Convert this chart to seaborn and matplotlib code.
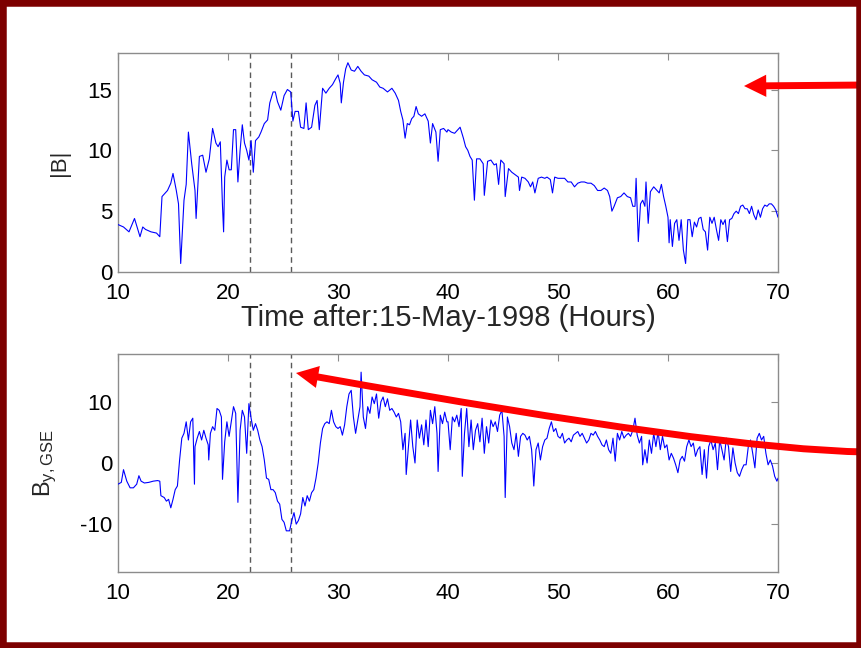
import numpy as np
import pandas as pd
import matplotlib
matplotlib.use("Agg")
import matplotlib.pyplot as plt
import seaborn as sns
from matplotlib.patches import FancyArrowPatch, Rectangle, ArrowStyle
from matplotlib.path import Path

# ---------------- data ----------------
t_bmag = [10.0, 10.5, 11.0, 11.5, 12.0, 12.25, 12.5, 13.0, 13.5, 13.8, 14.0, 14.5, 14.8, 15.0, 15.3,
          15.5, 15.7, 16.0, 16.2, 16.4, 16.7, 17.0, 17.1, 17.4, 17.7, 18.0, 18.3, 18.6, 18.9, 19.1,
          19.3, 19.5, 19.6, 19.7, 19.9, 20.1, 20.3, 20.5, 20.7, 20.9, 21.1, 21.3, 21.5, 21.7, 21.9,
          22.1, 22.3, 22.5, 22.8, 23.0, 23.3, 23.6, 23.8, 24.1, 24.3, 24.5, 24.8, 25.1, 25.4, 25.7,
          25.9, 26.1, 26.4, 26.6, 26.9, 27.1, 27.3, 27.6, 27.9, 28.1, 28.3, 28.6, 28.9, 29.2, 29.5,
          29.8, 30.0, 30.2, 30.3, 30.5, 30.7, 30.9, 31.2, 31.5, 31.8, 32.1, 32.4, 32.8, 33.1, 33.5,
          33.8, 34.1, 34.5, 34.9, 35.2, 35.5, 35.7, 35.9, 36.1, 36.3, 36.5, 36.7, 36.9, 37.1, 37.3,
          37.6, 37.9, 38.2, 38.4, 38.6, 38.9, 39.1, 39.3, 39.6, 39.9,
          40.0, 40.3, 40.6, 40.9, 41.1, 41.4, 41.6, 41.8, 42.0, 42.2, 42.4, 42.6, 42.9, 43.2, 43.3,
          43.6, 43.9, 44.2, 44.4, 44.6, 44.8, 45.1, 45.2, 45.5, 45.8, 46.1, 46.4, 46.5, 46.7, 47.0,
          47.3, 47.5, 47.7, 47.9, 48.2, 48.5, 48.8, 49.0, 49.3, 49.5, 49.7, 50.0, 50.3, 50.6, 50.9,
          51.2, 51.5, 51.8, 52.1, 52.4, 52.7, 53.0, 53.3, 53.6, 53.9, 54.2, 54.5, 54.7, 54.9, 55.1,
          55.4, 55.7, 56.0, 56.3, 56.6, 56.8, 57.0, 57.1, 57.3, 57.5, 57.7, 57.9, 58.0, 58.2, 58.4,
          58.7, 59.0, 59.2, 59.4, 59.6, 59.8, 60.0, 60.1, 60.2, 60.4, 60.6, 60.8, 61.0, 61.2, 61.4,
          61.6, 61.8, 62.0, 62.2, 62.4, 62.6, 62.8, 63.0, 63.2, 63.4, 63.6, 63.8, 64.0, 64.2, 64.4,
          64.6, 64.8, 65.0, 65.2, 65.4, 65.6, 65.8, 66.0, 66.2, 66.4, 66.6, 66.8, 67.0, 67.2, 67.4,
          67.6, 67.8, 68.0, 68.2, 68.4, 68.6, 68.8, 69.0, 69.2, 69.4, 69.6, 69.8, 70.0]
bmag = [3.9, 3.7, 3.3, 4.4, 2.9, 3.7, 3.5, 3.3, 3.2, 2.9, 6.2, 6.7, 7.3, 8.1, 6.7,
        5.6, 0.7, 5.9, 7.2, 11.5, 8.9, 6.7, 4.4, 9.5, 9.6, 8.2, 9.3, 11.8, 10.6, 10.3,
        10.7, 5.4, 3.3, 7.8, 9.2, 8.4, 8.4, 11.7, 11.7, 7.4, 10.0, 12.1, 10.6, 10.0, 9.2,
        10.8, 8.2, 10.8, 11.1, 11.5, 12.2, 12.5, 13.9, 14.8, 14.8, 14.0, 13.3, 14.5, 15.0, 14.8,
        12.4, 13.2, 13.2, 11.9, 11.8, 13.9, 11.7, 11.9, 13.7, 14.1, 11.7, 15.1, 14.7, 15.1, 15.4,
        15.9, 16.2, 15.5, 13.9, 15.6, 16.7, 17.2, 16.6, 16.5, 16.9, 16.5, 16.2, 16.1, 15.8, 15.6,
        15.2, 15.1, 14.8, 15.1, 14.7, 14.1, 13.2, 12.5, 11.0, 12.2, 12.1, 12.6, 12.8, 13.6, 13.0,
        12.8, 13.0, 12.4, 10.6, 12.2, 11.5, 9.1, 11.7, 11.8, 11.5,
        11.7, 11.5, 11.4, 11.7, 11.9, 11.0, 10.3, 10.0, 9.5, 9.2, 5.9, 9.3, 9.3, 8.9, 6.3,
        9.1, 9.2, 8.8, 8.9, 7.2, 9.2, 8.9, 6.2, 8.5, 8.2, 8.0, 7.8, 6.7, 7.8, 7.7,
        7.4, 7.0, 7.4, 6.5, 7.7, 7.8, 7.7, 7.8, 7.6, 6.5, 7.8, 7.7, 7.7, 7.7, 7.4,
        7.4, 7.0, 7.3, 7.4, 7.4, 7.3, 7.3, 7.1, 6.7, 6.7, 6.9, 6.7, 6.2, 5.0, 5.4,
        6.1, 6.2, 6.5, 6.2, 6.1, 5.4, 5.4, 7.7, 2.5, 5.6, 5.9, 5.4, 7.4, 4.0, 6.6,
        7.0, 6.7, 6.5, 7.2, 6.2, 5.4, 4.5, 2.4, 4.3, 2.1, 4.0, 4.3, 2.6, 4.3, 1.8,
        0.7, 4.3, 4.3, 2.9, 4.1, 3.7, 4.4, 4.5, 3.5, 3.3, 1.8, 4.5, 4.0, 4.5, 3.5,
        2.6, 4.3, 3.9, 4.3, 2.5, 4.3, 4.4, 4.8, 5.0, 4.8, 5.4, 5.5, 5.2, 5.2, 4.8,
        5.4, 4.7, 4.3, 5.1, 4.5, 5.2, 5.5, 5.4, 5.6, 5.6, 5.4, 5.1, 4.5]

t_by = [10.0, 10.3, 10.5, 10.8, 11.1, 11.4, 11.7, 11.9, 12.1, 12.4, 12.8, 13.2, 13.6, 13.8, 13.9,
        14.2, 14.4, 14.6, 14.8, 15.0, 15.2, 15.4, 15.6, 15.8, 16.0, 16.2, 16.4, 16.6, 16.8, 16.95,
        17.0, 17.2, 17.4, 17.6, 17.8, 18.0, 18.2, 18.25, 18.4, 18.6, 18.8, 19.0, 19.2, 19.4, 19.5,
        19.7, 19.9, 20.1, 20.3, 20.5, 20.7, 20.9, 21.1, 21.3, 21.5, 21.7, 21.9, 22.1, 22.3, 22.5,
        22.7, 22.9, 23.1, 23.3, 23.5, 23.7, 23.9, 24.1, 24.3, 24.5, 24.7, 24.9, 25.1, 25.3, 25.6,
        25.8, 26.0, 26.2, 26.4, 26.6, 26.8, 27.0, 27.2, 27.4, 27.6, 27.8, 28.0, 28.2, 28.4, 28.6,
        28.8, 29.0, 29.2, 29.4, 29.6, 29.8, 30.0, 30.2, 30.4, 30.6, 30.8, 31.0, 31.2, 31.4, 31.6,
        31.8, 32.0, 32.1, 32.3, 32.5, 32.7, 32.9, 33.1, 33.3, 33.5, 33.7, 33.9, 34.1, 34.3, 34.5,
        34.7, 34.9, 35.1, 35.3, 35.5, 35.7, 35.9, 36.1, 36.2, 36.4, 36.6, 36.8, 37.0, 37.2, 37.4,
        37.6, 37.8, 38.0, 38.2, 38.4, 38.6, 38.8, 39.0, 39.1, 39.3, 39.5, 39.7, 39.9,
        40.0, 40.2, 40.4, 40.6, 40.8, 41.0, 41.2, 41.3, 41.5, 41.7, 41.9, 42.1, 42.3, 42.5, 42.7,
        42.9, 43.1, 43.3, 43.5, 43.7, 43.9, 44.1, 44.3, 44.5, 44.7, 44.9, 45.1, 45.2, 45.4, 45.6,
        45.8, 46.0, 46.2, 46.4, 46.6, 46.8, 47.0, 47.2, 47.4, 47.6, 47.7, 47.8, 48.0, 48.2, 48.4,
        48.6, 48.8, 49.0, 49.2, 49.4, 49.6, 49.8, 50.0, 50.2, 50.4, 50.6, 50.8, 51.0, 51.2, 51.4,
        51.6, 51.8, 52.0, 52.2, 52.4, 52.6, 52.8, 53.0, 53.2, 53.4, 53.6, 53.8, 54.0, 54.2, 54.4,
        54.6, 54.8, 55.0, 55.2, 55.4, 55.6, 55.8, 56.0, 56.2, 56.4, 56.6, 56.8, 57.0, 57.2, 57.4,
        57.6, 57.7, 57.9, 58.1, 58.3, 58.5, 58.7, 58.9, 59.1, 59.3, 59.5, 59.7, 59.9, 60.1, 60.3,
        60.5, 60.7, 60.9, 61.1, 61.3, 61.5, 61.7, 61.9, 62.1, 62.3, 62.5, 62.7, 62.9, 63.1, 63.3,
        63.5, 63.7, 63.9, 64.1, 64.3, 64.5, 64.7, 64.9, 65.1, 65.3, 65.5, 65.7, 65.9, 66.1, 66.3,
        66.5, 66.7, 66.9, 67.1, 67.3, 67.5, 67.7, 67.9, 68.1, 68.3, 68.5, 68.7, 68.9, 69.1, 69.3,
        69.5, 69.7, 69.9, 70.0]
by_gse = [-3.5, -3.2, -1.1, -3.0, -4.1, -4.1, -3.5, -2.1, -3.0, -3.3, -3.2, -3.0, -2.9, -3.0, -5.4,
          -5.7, -6.3, -6.0, -7.4, -6.0, -4.4, -3.8, 0.5, 4.1, 4.9, 6.8, 3.8, 6.8, 7.4, -3.5,
          2.7, 4.1, 5.2, 3.8, 5.4, 4.1, 3.0, 0.5, 4.9, 6.0, 5.4, 9.0, 8.7, 7.6, -2.7,
          3.5, 6.8, 4.4, 6.8, 9.3, 8.2, -6.5, 5.4, 8.7, 7.6, 1.6, 9.8, 7.4, 5.4, 6.5,
          5.4, 3.8, 2.7, 0.5, -2.5, -2.7, -4.4, -4.4, -4.9, -6.3, -6.8, -9.3, -9.8, -11.2, -11.2,
          -9.5, -8.2, -10.1, -9.5, -8.4, -5.7, -7.1, -5.4, -6.3, -4.9, -4.4, -2.5, 0.0, 3.3, 5.7,
          6.5, 6.8, 6.5, 8.7, 6.8, 6.0, 5.7, 6.0, 4.6, 6.3, 9.3, 11.4, 12.0, 7.6, 4.9,
          7.1, 9.3, 15.0, 7.6, 5.7, 9.3, 8.2, 10.9, 9.8, 11.4, 7.4, 10.1, 10.9, 9.3, 10.6,
          8.7, 9.0, 8.4, 7.6, 8.2, 6.8, 2.2, 4.9, -1.9, 2.7, 7.1, 2.7, 0.0, 7.1, 4.1,
          6.3, 3.0, 7.1, 2.7, 8.7, 6.5, 9.3, 4.9, -1.4, 7.9, 6.5, 8.4, 6.8,
          6.8, 2.2, 7.6, 6.8, 7.9, 6.0, 9.0, -2.2, 4.9, 9.0, 2.7, 7.1, 2.2, 5.4, 6.5,
          3.5, 7.4, 1.6, 6.0, 3.3, 7.1, 6.0, 6.8, 5.2, 7.9, 8.7, 4.4, -5.7, 7.6, 6.0,
          3.3, 2.2, 4.9, 1.1, 4.4, 4.9, 4.6, 3.8, 4.4, 2.2, -0.5, -3.8, 2.2, 3.3, 0.5,
          2.7, 3.8, 4.1, 5.7, 6.8, 5.2, 5.7, 4.4, 4.1, 4.9, 3.3, 3.8, 4.1, 3.5, 4.6,
          4.9, 5.2, 4.4, 4.9, 4.1, 3.3, 3.8, 4.9, 4.6, 5.2, 4.4, 3.8, 3.0, 2.7, 3.8,
          2.2, 1.6, 4.1, 0.3, 4.9, 3.8, 5.2, 4.1, 4.6, 4.9, 4.4, 5.4, 7.4, 4.6, 3.3,
          4.4, -0.3, 2.2, 0.0, 3.8, 1.6, 4.9, 2.7, 5.2, 2.2, 4.4, 2.5, 3.0, 0.5, 1.6,
          0.8, -0.3, -1.6, 0.5, 1.1, 0.3, 2.7, 3.8, 2.7, 3.3, 1.1, 2.2, 2.7, -1.9, 2.2,
          -2.5, 2.7, 3.8, 2.2, 3.3, -1.1, 3.8, 2.2, 0.5, 4.1, 2.7, -1.4, 2.5, 0.0, -1.6,
          -2.2, -1.1, -0.3, -0.3, 2.7, 3.8, 1.6, -0.8, 4.1, 4.9, 3.8, 4.4, 1.6, -0.3, 0.5,
          -0.5, -2.2, -3.0, -2.5]

event_times = [22.0, 25.75]
x_ticks = [10, 20, 30, 40, 50, 60, 70]
y_ticks_top = [0, 5, 10, 15]
y_ticks_bot = [-10, 0, 10]
xlabel_text = "Time after:15-May-1998 (Hours)"

# ---------------- style ----------------
sns.set_style("white")
plt.rcParams['font.family'] = ['Liberation Sans', 'DejaVu Sans']
plt.rcParams['mathtext.fontset'] = 'custom'
plt.rcParams['mathtext.rm'] = 'Liberation Sans'
plt.rcParams['mathtext.it'] = 'Liberation Sans'
plt.rcParams['axes.unicode_minus'] = False

W, H = 862, 648
fig = plt.figure(figsize=(W / 100, H / 100), dpi=100)
fig.patch.set_facecolor("white")

def px_axes(x0, y0, x1, y1):
    return [x0 / W, 1 - y1 / H, (x1 - x0) / W, (y1 - y0) / H]

ax1 = fig.add_axes(px_axes(118, 53, 778, 272))
ax2 = fig.add_axes(px_axes(118, 354, 778, 572))

df1 = pd.DataFrame({"t": t_bmag, "v": bmag})
df2 = pd.DataFrame({"t": t_by, "v": by_gse})
sns.lineplot(data=df1, x="t", y="v", ax=ax1, color="#0000ff", lw=0.8,
             estimator=None, sort=False, zorder=3)
sns.lineplot(data=df2, x="t", y="v", ax=ax2, color="#0000ff", lw=0.8,
             estimator=None, sort=False, zorder=3)

spine_col = "#8c8c8c"
for ax, yt, yl in [(ax1, y_ticks_top, (0, 18)), (ax2, y_ticks_bot, (-18, 18))]:
    ax.set_xlim(10, 70)
    ax.set_ylim(*yl)
    ax.set_xticks(x_ticks)
    ax.set_yticks(yt)
    for tv in event_times:
        ax.axvline(tv, color="#5a5a5a", lw=1.0, ls=(0, (4, 3)), zorder=2)
    for s in ax.spines.values():
        s.set_color(spine_col)
        s.set_linewidth(1.0)
        s.set_visible(True)
    ax.tick_params(direction="in", length=5, width=0.8, color=spine_col,
                   top=True, right=True, labelsize=16, labelcolor="black")
    ax.tick_params(axis="x", pad=8)
    ax.tick_params(axis="y", pad=4)
    ax.set_xlabel("")
    ax.set_ylabel("")

ax1.set_xlabel(xlabel_text, fontsize=21)
ax1.xaxis.set_label_coords(0.5, -0.148)
ax1.set_ylabel("|B|", fontsize=16)
ax1.yaxis.set_label_coords(-0.072, 0.5)
ax2.set_ylabel(r"B$_{\mathrm{y,GSE}}$", fontsize=17)
ax2.yaxis.set_label_coords(-0.09, 0.5)

# ---------------- red annotation arrows ----------------
def fp(x, y):
    return (x / W, 1 - y / H)

red = "#ff0000"
arr1 = FancyArrowPatch(fp(866, 85), fp(744, 86), transform=fig.transFigure,
                       arrowstyle=ArrowStyle("simple", head_length=16, head_width=16, tail_width=5),
                       connectionstyle="arc3,rad=0", color=red, lw=0, zorder=50,
                       mutation_scale=1, shrinkA=0, shrinkB=0)
fig.add_artist(arr1)

path = Path([fp(866, 452), fp(720, 450), fp(296, 373)],
            [Path.MOVETO, Path.CURVE3, Path.CURVE3])
arr2 = FancyArrowPatch(path=path, transform=fig.transFigure,
                       arrowstyle=ArrowStyle("simple", head_length=16, head_width=16, tail_width=5),
                       color=red, lw=0, zorder=50, mutation_scale=1)
fig.add_artist(arr2)

# ---------------- dark red frame ----------------
frame = Rectangle((0, 0), 1, 1, transform=fig.transFigure, fill=False,
                  edgecolor="#7d0000", lw=9, zorder=100)
fig.add_artist(frame)

fig.savefig("out.png", dpi=100)
